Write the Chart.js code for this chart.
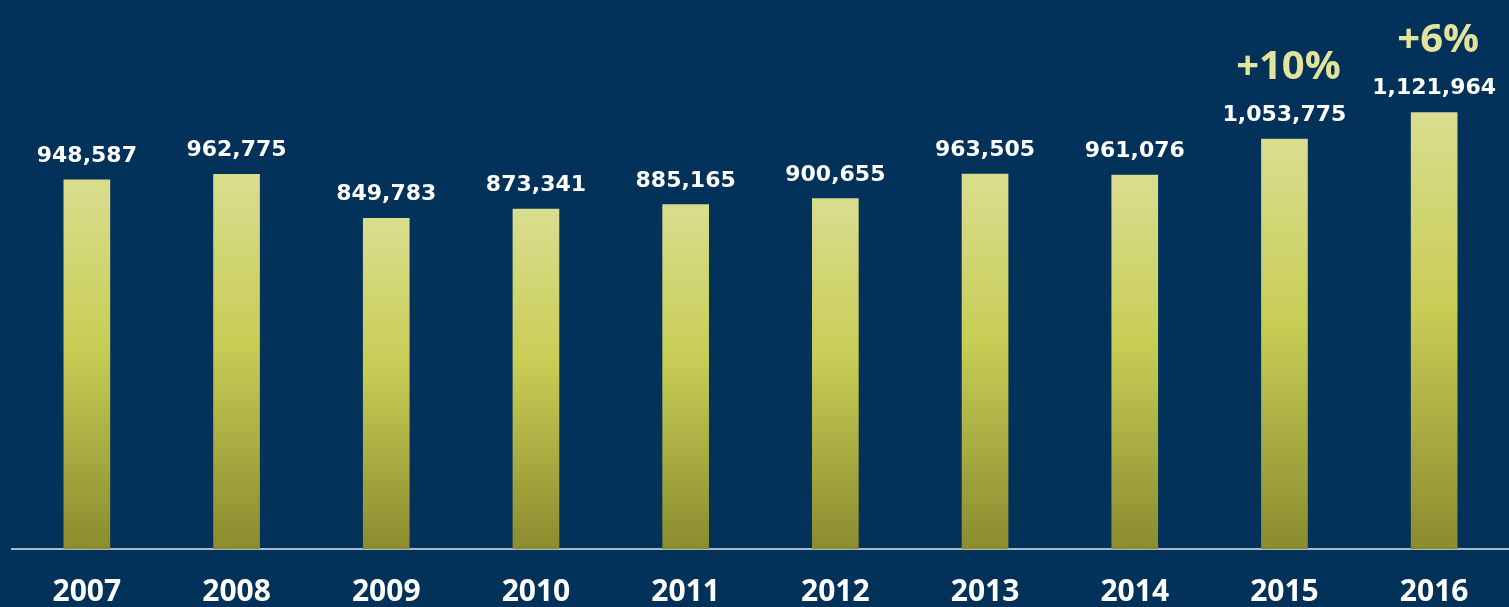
<!DOCTYPE html>
<html>
<head>
<meta charset="utf-8">
<script src="https://cdn.jsdelivr.net/npm/chart.js@4.4.0/dist/chart.umd.min.js"></script>
<style>
  html, body { margin: 0; padding: 0; background: #02325a; }
  #wrap { width: 1509px; height: 607px; }
</style>
</head>
<body>
<div id="wrap"><canvas id="barChart"></canvas></div>
<script>
const years = ['2007', '2008', '2009', '2010', '2011', '2012', '2013', '2014', '2015', '2016'];
const visitors = [948587, 962775, 849783, 873341, 885165, 900655, 963505, 961076, 1053775, 1121964];
const growthLabels = ['', '', '', '', '', '', '', '', '+10%', '+6%'];

// value + growth labels above each bar
const barLabels = {
  id: 'barLabels',
  afterDatasetsDraw(chart) {
    const ctx = chart.ctx;
    const meta = chart.getDatasetMeta(0);
    ctx.save();
    ctx.textAlign = 'center';
    ctx.textBaseline = 'alphabetic';
    meta.data.forEach((bar, i) => {
      ctx.fillStyle = '#ffffff';
      ctx.font = 'bold 22px "DejaVu Sans"';
      ctx.fillText(visitors[i].toLocaleString('en-US'), bar.x, bar.y - 18);
      if (growthLabels[i]) {
        ctx.fillStyle = '#e2e39c';
        ctx.font = 'bold 40px "Open Sans"';
        ctx.fillText(growthLabels[i], bar.x + 4, bar.y - 60);
      }
    });
    ctx.restore();
  }
};

const barCtx = document.getElementById('barChart').getContext('2d');
new Chart(barCtx, {
  type: 'bar',
  data: {
    labels: years,
    datasets: [{
      data: visitors,
      backgroundColor: (c) => {
        const chart = c.chart;
        const area = chart.chartArea;
        if (!area || c.raw === undefined) return '#c8cd55';
        const top = chart.scales.y.getPixelForValue(c.raw);
        const g = chart.ctx.createLinearGradient(0, top, 0, area.bottom);
        g.addColorStop(0, '#dadd8e');
        g.addColorStop(0.45, '#c8cd55');
        g.addColorStop(1, '#8a8c2e');
        return g;
      },
      borderWidth: 0,
      barThickness: 46
    }]
  },
  options: {
    responsive: true,
    maintainAspectRatio: false,
    animation: false,
    layout: { padding: { left: 12, right: 0, top: 0, bottom: 0 } },
    scales: {
      x: {
        z: 1,
        grid: { display: false, drawTicks: false },
        border: { display: true, color: '#a9b9c9', width: 2 },
        ticks: {
          color: '#ffffff',
          padding: 28,
          font: { family: '"Open Sans"', size: 30, weight: 'bold', lineHeight: 1 }
        },
        afterFit(scale) { scale.height = 58; }
      },
      y: {
        display: false,
        min: 0,
        max: 1411000
      }
    },
    plugins: {
      legend: { display: false },
      tooltip: { enabled: false }
    }
  },
  plugins: [barLabels]
});
</script>
</body>
</html>
